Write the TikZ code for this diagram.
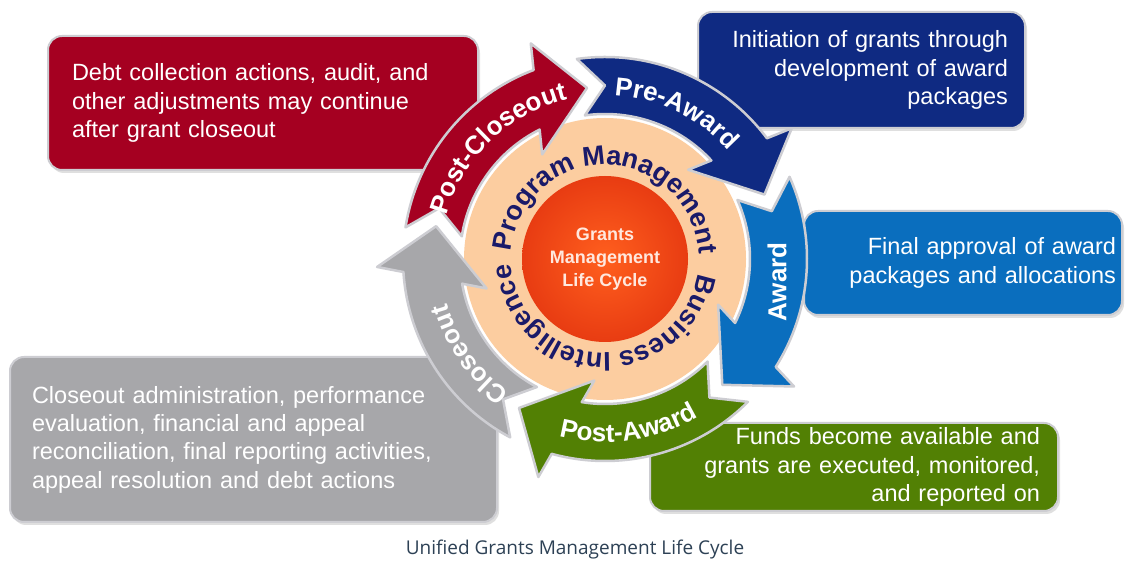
\documentclass[tikz,border=0pt]{standalone}
\usepackage{fontspec}
\setmainfont{Liberation Sans}
\newfontfamily\capfont{Open Sans}
\usetikzlibrary{decorations.text,shadows}

\definecolor{redc}{RGB}{165,0,33}
\definecolor{navyc}{RGB}{15,42,130}
\definecolor{bluec}{RGB}{10,110,190}
\definecolor{greenc}{RGB}{82,128,4}
\definecolor{greyc}{RGB}{167,167,170}
\definecolor{peachc}{RGB}{252,205,160}
\definecolor{pmtext}{RGB}{26,26,105}
\definecolor{edgec}{RGB}{205,205,210}
\definecolor{capc}{RGB}{45,65,85}
\definecolor{orin}{RGB}{255,95,30}
\definecolor{orout}{RGB}{232,60,18}
\definecolor{ctrtext}{RGB}{255,232,222}

\newcommand\bandsize{\fontsize{26}{30}\selectfont\bfseries}
\newcommand\bandfont{\bandsize\color{white}}
\newcommand\ringfont{\fontsize{27}{32}\selectfont\bfseries\color{pmtext}}
\newcommand\boxfont{\fontsize{23.5}{28.3}\selectfont}

% #1 colour, #2 tail angle, #3 tip angle
\newcommand\cyclearrow[3]{%
  \filldraw[band, fill=#1] (#2:202pt) arc[start angle=#2, end angle={#3+14.7}, radius=202pt]
    -- ({#3+13}:228pt) -- (#3:172pt) -- ({#3+25}:122pt) -- ({#3+20.8}:145pt)
    arc[start angle={#3+20.8}, end angle=#2, radius=145pt] -- ({#2-8}:173.5pt) -- cycle;
}
% clockwise text: #1 text, #2 centre angle, #3 half span, #4 radius
\newcommand\cwtext[4]{%
  \path[decorate, decoration={text along path, text align=center, text={#1}}]
    ({#2+#3}:#4) arc[start angle={#2+#3}, end angle={#2-#3}, radius=#4];
}
% counter-clockwise text
\newcommand\ccwtext[4]{%
  \path[decorate, decoration={text along path, text align=center, text={#1}}]
    ({#2-#3}:#4) arc[start angle={#2-#3}, end angle={#2+#3}, radius=#4];
}

\tikzset{
  box/.style={rounded corners=14pt, draw=edgec, line width=2pt, inner sep=0pt,
    font=\boxfont, text=white,
    drop shadow={opacity=0.25, shadow xshift=2pt, shadow yshift=-3pt}},
  band/.style={draw=edgec, line width=2.5pt, line join=round},
}

\begin{document}
\begin{tikzpicture}[x=1pt,y=1pt]
\useasboundingbox (0,0) rectangle (1130,565);
\fill[white] (0,0) rectangle (1130,565);

% description boxes
\node[box, fill=redc, minimum width=430pt, minimum height=134pt, text width=382pt, align=left]
  (rbox) at (263,462) {Debt collection actions, audit, and\\other adjustments may continue\\after grant closeout};
\node[box, fill=navyc, minimum width=327pt, minimum height=116pt, text width=293pt, align=right]
  (nbox) at (861.5,495) {Initiation of grants through\\development of award\\packages};
\node[box, fill=bluec, minimum width=318pt, minimum height=104pt, text width=306pt, align=right]
  (bbox) at (963,302) {Final approval of award\\packages and allocations};
\node[box, fill=greenc, minimum width=408pt, minimum height=88pt, text width=372pt, align=right]
  (gbox) at (854,98) {Funds become available and\\grants are executed, monitored,\\and reported on};
\node[box, fill=greyc, minimum width=487pt, minimum height=165pt, text width=443pt, align=left]
  (ybox) at (253.5,125.5) {Closeout administration, performance\\evaluation, financial and appeal\\reconciliation, final reporting activities,\\appeal resolution and debt actions};

\begin{scope}[shift={(605,306)}]
  % peach disc
  \fill[peachc] (0,0) circle[radius=141pt];
  % cycle arrows
  \cyclearrow{redc}{171}{96}
  \cyclearrow{navyc}{98}{22}
  \cyclearrow{bluec}{24}{-47}
  \cyclearrow{greenc}{-45}{-120}
  \cyclearrow{greyc}{-118}{-191}
  % band labels
  \cwtext{|\bandfont|Post-Closeout}{134}{38}{164pt}
  \cwtext{|\bandfont|Pre-Award}{64}{38}{164pt}
  \cwtext{|\bandfont|Closeout}{215}{38}{164pt}
  \ccwtext{|\bandfont|Post-Award}{-82}{38}{183pt}
  \node[rotate=90, font=\bandsize, text=white, inner sep=0pt] (awardlbl) at (172,-23) {Award};
  % ring labels
  \cwtext{|\ringfont|Program Management}{89}{92}{94pt}
  \cwtext{|\ringfont|Business Intelligence}{-93}{90}{94pt}
  % centre
  \shade[inner color=orin, outer color=orout] (0,0) circle[radius=83pt];
  \node[align=center, text=ctrtext, font=\fontsize{18}{23}\selectfont\bfseries] (centre) at (0,0)
    {Grants\\Management\\Life Cycle};
\end{scope}

\node[font=\capfont\fontsize{19}{22}\selectfont, text=capc] (caption) at (575,15)
  {Unified Grants Management Life Cycle};
\end{tikzpicture}
\end{document}
